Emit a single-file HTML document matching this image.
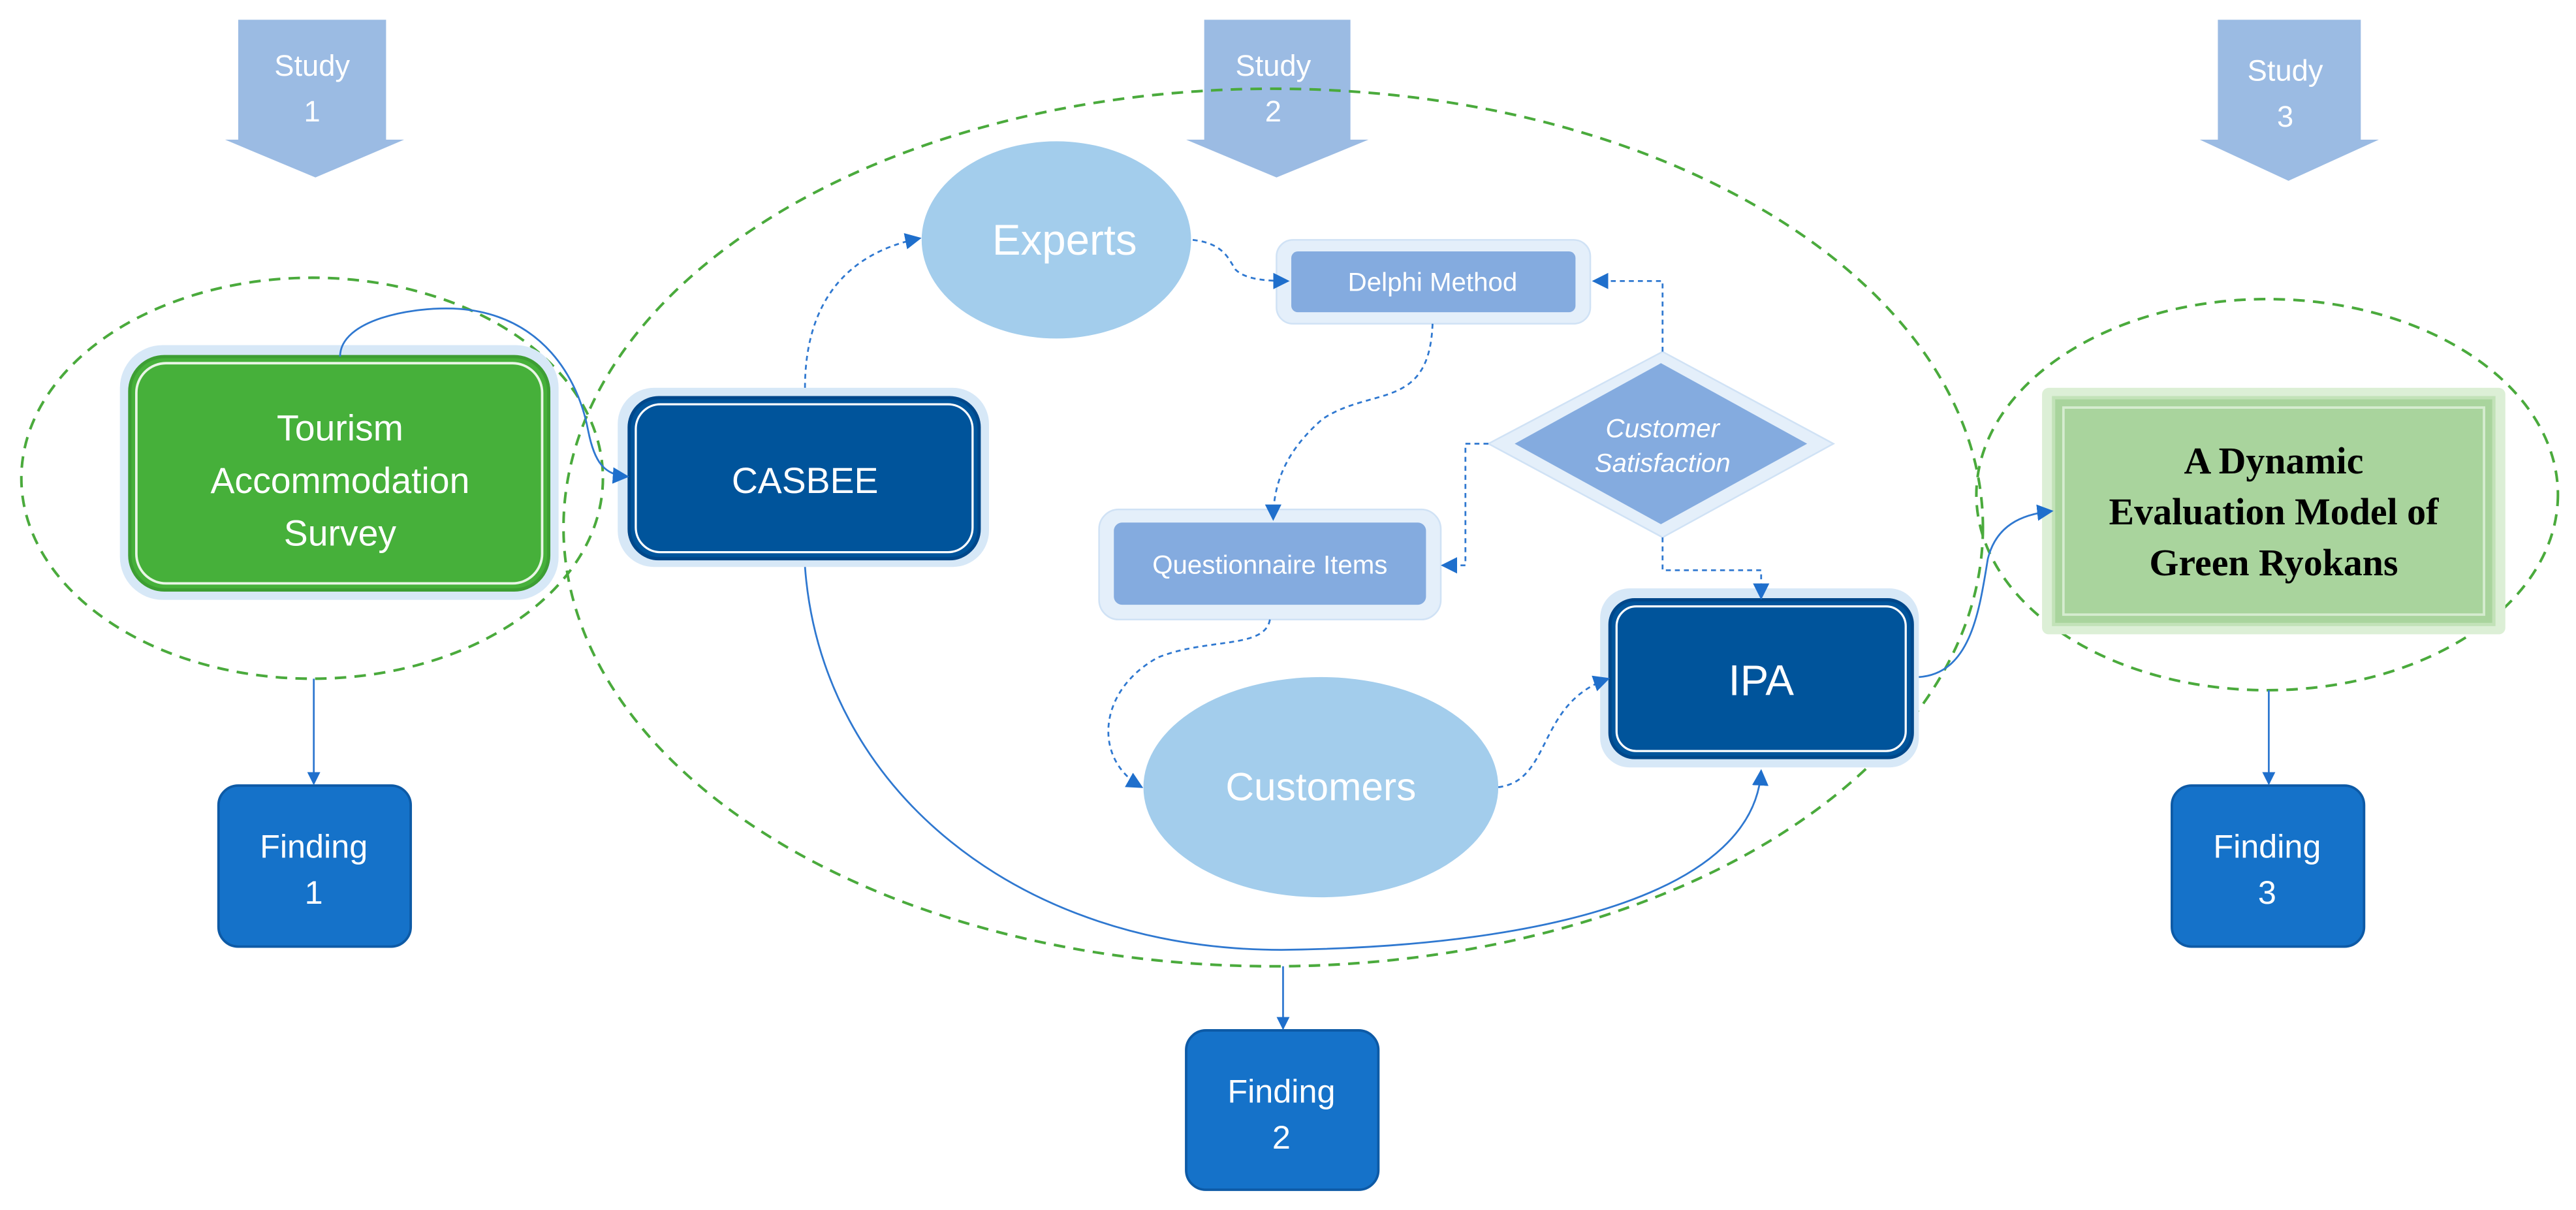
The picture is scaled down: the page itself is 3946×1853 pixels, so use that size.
<!DOCTYPE html>
<html><head><meta charset="utf-8"><style>html,body{margin:0;padding:0;background:#fff}svg{display:block}</style></head><body>
<svg width="3946" height="1853" viewBox="0 0 1568 736.3" preserveAspectRatio="none" xmlns="http://www.w3.org/2000/svg" font-family="Liberation Sans, sans-serif">
<defs>
<marker id="ar" viewBox="0 0 10 10" refX="9" refY="5" markerWidth="8" markerHeight="8" markerUnits="userSpaceOnUse" orient="auto"><path d="M0,0 L10,5 L0,10 z" fill="#1f6fcc"/></marker>
<marker id="ar2" viewBox="0 0 10 10" refX="9" refY="5" markerWidth="10" markerHeight="10" markerUnits="userSpaceOnUse" orient="auto"><path d="M0,0 L10,5 L0,10 z" fill="#1f6fcc"/></marker>
</defs>
<rect width="1568" height="736.3" fill="#fff"/>
<g fill="#9bbbe3">
<path d="M145,12 H235 V85 H246 L192,108 L137,85 H145 Z"/>
<path d="M733,12 H822 V85 H833 L777,108 L722,85 H733 Z"/>
<path d="M1350,12 H1437 V85 H1448 L1393,110 L1339,85 H1350 Z"/>
</g>
<g fill="#fff" font-size="18" text-anchor="middle">
<text x="190" y="46">Study</text><text x="190" y="74">1</text>
<text x="775" y="46">Study</text><text x="775" y="74">2</text>
<text x="1391" y="49">Study</text><text x="1391" y="77">3</text>
</g>
<g fill="none" stroke="#4aaa3c" stroke-width="1.6" stroke-dasharray="7,5">
<ellipse cx="190" cy="291" rx="177" ry="122"/>
<ellipse cx="775" cy="321" rx="432" ry="267"/>
<ellipse cx="1380" cy="301" rx="177" ry="119"/>
</g>
<rect x="73" y="210" width="267" height="155" rx="26" fill="#d7e8f7"/>
<rect x="79" y="217" width="255" height="142" rx="21" fill="#46b03a" stroke="#3d9e33" stroke-width="2"/>
<rect x="83" y="221" width="247" height="134" rx="18" fill="none" stroke="#e9f5e6" stroke-width="1.5"/>
<g fill="#fff" font-size="22" text-anchor="middle">
<text x="207" y="268">Tourism</text><text x="207" y="300">Accommodation</text><text x="207" y="332">Survey</text>
</g>
<rect x="376" y="236" width="226" height="109" rx="22" fill="#d7e8f7"/>
<rect x="383" y="242" width="213" height="98" rx="18" fill="#00549b" stroke="#00478a" stroke-width="2"/>
<rect x="387" y="246" width="205" height="90" rx="15" fill="none" stroke="#fff" stroke-width="1.3"/>
<text x="490" y="300" fill="#fff" font-size="22" text-anchor="middle">CASBEE</text>
<ellipse cx="643" cy="146" rx="82" ry="60" fill="#a3cdec"/>
<text x="648" y="155" fill="#fff" font-size="26" text-anchor="middle">Experts</text>
<rect x="777" y="146" width="191" height="51" rx="10" fill="#e4effa" stroke="#d0e2f5"/>
<rect x="786" y="153" width="173" height="37" rx="4" fill="#84abdf"/>
<text x="872" y="177" fill="#fff" font-size="16" text-anchor="middle">Delphi Method</text>
<path d="M1012,214 L1116,270 L1012,327 L906,270 Z" fill="#e4effa" stroke="#d0e2f5"/>
<path d="M1011,221 L1100,270 L1011,319 L922,270 Z" fill="#84abdf"/>
<g fill="#fff" font-size="16" font-style="italic" text-anchor="middle">
<text x="1012" y="266">Customer</text><text x="1012" y="287">Satisfaction</text>
</g>
<rect x="669" y="310" width="208" height="67" rx="12" fill="#e4effa" stroke="#d0e2f5"/>
<rect x="678" y="318" width="190" height="50" rx="5" fill="#84abdf"/>
<text x="773" y="349" fill="#fff" font-size="16" text-anchor="middle">Questionnaire Items</text>
<rect x="974" y="358" width="194" height="109" rx="18" fill="#d7e8f7"/>
<rect x="980" y="365" width="184" height="96" rx="15" fill="#00549b" stroke="#00478a" stroke-width="2"/>
<rect x="984" y="369" width="176" height="88" rx="12" fill="none" stroke="#fff" stroke-width="1.3"/>
<text x="1072" y="423" fill="#fff" font-size="26" text-anchor="middle">IPA</text>
<ellipse cx="804" cy="479" rx="108" ry="67" fill="#a3cdec"/>
<text x="804" y="487" fill="#fff" font-size="24" text-anchor="middle">Customers</text>
<rect x="1243" y="236" width="282" height="150" rx="4" fill="#dcefd6"/>
<rect x="1250" y="242" width="268" height="138" fill="#a9d49d" stroke="#c2e2b8" stroke-width="2"/>
<rect x="1256" y="248" width="256" height="126" fill="none" stroke="#d6ecd0" stroke-width="1.5"/>
<g fill="#000" font-family="Liberation Serif, serif" font-weight="bold" font-size="23" text-anchor="middle">
<text x="1384" y="288">A Dynamic</text><text x="1384" y="319">Evaluation Model of</text><text x="1384" y="350">Green Ryokans</text>
</g>
<g fill="#1572c9" stroke="#0d5aa6" stroke-width="1.5">
<rect x="133" y="478" width="117" height="98" rx="12"/>
<rect x="722" y="627" width="117" height="97" rx="12"/>
<rect x="1322" y="478" width="117" height="98" rx="12"/>
</g>
<g fill="#fff" font-size="20" text-anchor="middle">
<text x="191" y="522">Finding</text><text x="191" y="550">1</text>
<text x="780" y="671">Finding</text><text x="780" y="699">2</text>
<text x="1380" y="522">Finding</text><text x="1380" y="550">3</text>
</g>
<g fill="none" stroke="#2f78d0" stroke-width="1.1" marker-end="url(#ar2)">
<path d="M207 217 C207 195, 250 186, 280 188 C330 192, 352 230, 358 262 C362 282, 368 289, 382 290"/>
<path d="M490 345 C500 480, 620 578, 780 578 C950 576, 1068 540, 1072 469"/>
<path d="M1168 412 C1200 410, 1205 370, 1210 340 C1215 320, 1230 313, 1249 311"/>
</g>
<g fill="none" stroke="#2f78d0" stroke-width="1.1" marker-end="url(#ar)">
<path d="M191 413 V477"/>
<path d="M781 588 V626"/>
<path d="M1381 420 V477"/>
</g>
<g fill="none" stroke="#2f78d0" stroke-width="1.1" stroke-dasharray="3,2.5" marker-end="url(#ar2)">
<path d="M490 236 C490 190, 510 155, 560 145"/>
<path d="M726 146 C745 148, 748 158, 752 164 C758 170, 770 171, 784 171"/>
<path d="M872 197 C870 250, 835 235, 805 255 C782 275, 775 295, 775 316"/>
<path d="M1012 214 V171 H970"/>
<path d="M906 270 H892 V344 H878"/>
<path d="M1012 327 V347 H1072 V364"/>
<path d="M773 377 C770 395, 735 388, 705 400 C668 420, 665 462, 695 479"/>
<path d="M912 479 C945 475, 935 428, 979 413"/>
</g>
</svg>
</body></html>
